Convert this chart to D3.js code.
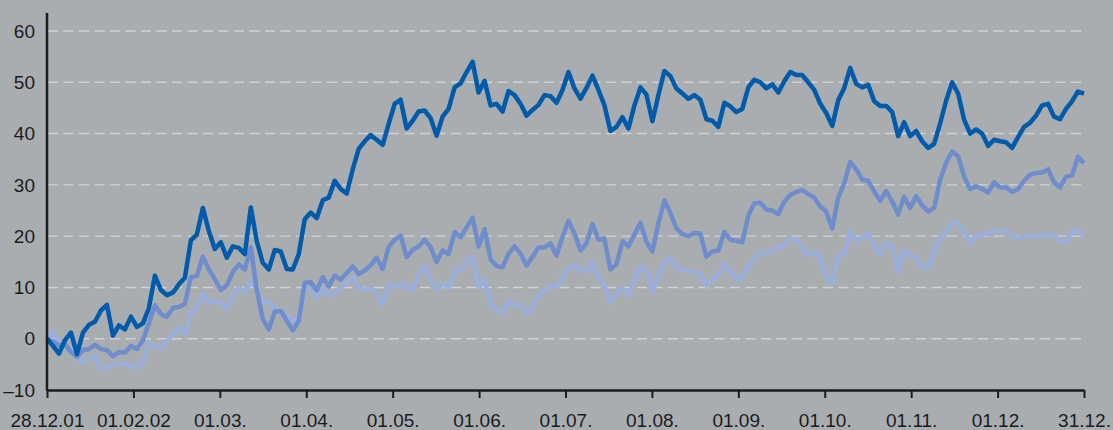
<!DOCTYPE html>
<html>
<head>
<meta charset="utf-8">
<script src="https://cdnjs.cloudflare.com/ajax/libs/d3/7.8.5/d3.min.js"></script>
<style>
  body { margin: 0; background: #a9adb0; }
  svg { display: block; }
  text { font-family: "Liberation Sans", Arial, sans-serif; font-size: 19px; fill: #1c1c1c; }
</style>
</head>
<body>
<div id="chart"></div>
<script>
// tick labels along the bottom (evenly spaced)
var categories = ['28.12.01', '01.02.02', '01.03.', '01.04.', '01.05.', '01.06.', '01.07.',
                  '01.08.', '01.09.', '01.10.', '01.11.', '01.12.', '31.12.'];
var yTicks = [-10, 0, 10, 20, 30, 40, 50, 60];

// performance in %, one value per step
var seriesDark = [0, -1.4, -2.9, -0.3, 1.2, -3.0, 1.2, 2.7, 3.3, 5.5,
  6.6, 0.6, 2.6, 1.8, 4.3, 2.3, 3.0, 6.0, 12.3, 9.5,
  8.5, 9.0, 10.6, 11.9, 19.2, 20.3, 25.5, 21.0, 17.5, 18.8,
  15.8, 18.0, 17.7, 16.5, 25.6, 19.0, 14.8, 13.5, 17.3, 17.0,
  13.6, 13.5, 16.5, 23.3, 24.6, 23.5, 27.0, 27.5, 30.8, 29.2,
  28.3, 33.0, 37.0, 38.5, 39.7, 38.8, 37.8, 41.9, 45.8, 46.6,
  41.0, 42.5, 44.3, 44.5, 43.0, 39.6, 43.3, 44.8, 49.0, 49.8,
  52.0, 54.0, 48.0, 50.3, 45.5, 45.8, 44.3, 48.3, 47.5, 45.8,
  43.5, 44.6, 45.6, 47.5, 47.3, 46.0, 48.5, 52.0, 48.8, 46.8,
  48.9, 51.3, 48.5, 45.5, 40.5, 41.3, 43.2, 41.0, 45.5, 49.0,
  47.6, 42.4, 47.5, 52.2, 51.2, 48.8, 47.8, 46.8, 47.5, 46.6,
  42.8, 42.5, 41.3, 46.0, 45.3, 44.2, 44.8, 49.0, 50.5, 50.0,
  48.8, 49.6, 48.0, 50.2, 52.0, 51.4, 51.4, 50.0, 48.5, 45.8,
  44.0, 41.5, 46.5, 48.9, 52.8, 49.7, 49.0, 49.5, 46.3, 45.4,
  45.4, 44.2, 39.5, 42.2, 39.5, 40.5, 38.5, 37.2, 38.0, 42.0,
  46.4, 50.0, 47.8, 42.7, 40.0, 40.8, 40.0, 37.6, 38.8, 38.5,
  38.3, 37.2, 39.3, 41.3, 42.1, 43.5, 45.5, 45.8, 43.3, 42.8,
  44.8, 46.3, 48.2, 47.8];

var seriesMid = [0, -0.6, -1.3, -1.1, -2.6, -3.5, -2.2, -2.0, -1.2, -2.0,
  -2.2, -3.4, -2.6, -2.7, -1.4, -2.0, -0.3, 3.0, 6.5, 4.8,
  4.3, 6.0, 6.2, 6.8, 12.0, 12.2, 16.0, 13.5, 11.6, 9.5,
  10.4, 13.0, 14.5, 13.5, 17.8, 9.5, 3.8, 1.8, 5.3, 5.4,
  3.5, 1.6, 3.5, 10.9, 11.0, 9.4, 12.0, 10.2, 12.3, 11.5,
  12.8, 14.1, 12.6, 13.3, 14.3, 15.8, 13.6, 17.9, 19.3, 20.1,
  15.9, 17.3, 18.0, 19.3, 17.8, 15.0, 17.2, 16.5, 20.8, 19.8,
  21.7, 23.6, 18.0, 21.4, 15.5, 14.2, 13.9, 16.6, 18.0, 16.6,
  14.3, 16.0, 17.8, 17.8, 18.6, 16.2, 19.9, 23.0, 20.5, 17.2,
  18.6, 22.4, 19.3, 19.5, 13.5, 14.5, 19.0, 18.0, 20.3, 22.6,
  18.9, 17.0, 22.5, 27.0, 24.5, 21.5, 20.4, 20.0, 20.6, 20.5,
  16.0, 17.0, 17.2, 20.8, 19.3, 19.1, 18.8, 24.0, 26.4, 26.5,
  25.2, 25.0, 24.3, 26.7, 28.0, 28.6, 29.0, 28.2, 27.5, 25.8,
  24.8, 21.5, 27.5, 30.3, 34.5, 33.0, 31.0, 30.8, 28.7, 26.9,
  28.8, 26.8, 24.2, 27.7, 25.5, 27.8, 26.0, 24.8, 25.5, 31.0,
  34.3, 36.5, 35.6, 31.6, 29.2, 29.7, 29.2, 28.5, 30.5, 29.5,
  29.5, 28.6, 29.2, 30.8, 32.0, 32.3, 32.4, 33.0, 30.5, 29.5,
  31.6, 31.8, 35.5, 34.2];

var seriesLight = [0.3, 1.4, -0.6, -1.9, -1.8, -4.0, -4.4, -4.1, -3.3, -5.7,
  -5.7, -5.1, -4.7, -5.0, -5.2, -5.7, -4.7, -0.8, -1.7, -1.7,
  -0.4, 0.8, 2.3, 0.8, 5.0, 6.3, 8.7, 7.2, 7.5, 7.0,
  5.8, 8.5, 10.0, 9.0, 11.5, 9.5, 7.0, 7.5, 5.5, 5.5,
  4.5, 3.5, 4.5, 9.5, 9.8, 8.0, 9.5, 8.5, 9.0, 9.8,
  11.0, 12.0, 10.0, 9.5, 9.8, 9.0, 6.6, 10.5, 9.9, 10.8,
  10.2, 9.5, 12.6, 14.2, 11.6, 9.5, 10.7, 9.8, 13.2, 13.4,
  15.2, 16.0, 10.0, 11.5, 6.5, 5.5, 5.0, 7.4, 6.4, 6.7,
  4.9, 6.3, 8.5, 9.5, 10.3, 10.1, 12.0, 13.7, 14.3, 13.6,
  13.1, 15.1, 12.0, 10.5, 7.0, 9.0, 9.8, 8.5, 11.5, 14.0,
  13.6, 9.2, 12.0, 15.0, 15.7, 13.8, 13.5, 13.2, 12.9, 12.8,
  10.3, 11.5, 12.6, 14.5, 13.2, 11.5, 11.8, 14.0, 15.6, 16.9,
  16.7, 17.2, 17.8, 18.3, 19.6, 19.3, 17.8, 16.3, 17.0, 15.7,
  12.2, 10.8, 16.0, 16.7, 21.0, 19.1, 19.8, 20.5, 18.0, 16.5,
  18.8, 18.0, 13.0, 17.3, 16.2, 15.9, 14.0, 13.8, 17.0, 20.0,
  20.7, 22.7, 22.6, 20.7, 18.8, 19.9, 20.3, 20.5, 21.0, 21.2,
  21.0, 20.0, 19.5, 19.9, 20.2, 19.9, 20.2, 20.4, 20.1, 19.0,
  18.8, 20.8, 21.0, 20.0];

var lineColors = ['#9aafdc', '#6f8dcc', '#005baa'];

var width = 1113, height = 430;

var svg = d3.select('#chart').append('svg')
  .attr('width', width)
  .attr('height', height);

svg.append('rect').attr('width', width).attr('height', height).attr('fill', '#a9adb0');

var x = d3.scaleLinear().domain([0, seriesDark.length - 1]).range([47, 1084]);
var xCat = d3.scalePoint().domain(categories).range([47, 1084]);
var y = d3.scaleLinear().domain([-10, 60]).range([390, 31]);

// dashed grid
svg.append('g')
  .selectAll('line')
  .data(yTicks.filter(function (d) { return d > -10; }))
  .enter().append('line')
  .attr('x1', 48).attr('x2', 1085)
  .attr('y1', function (d) { return y(d); })
  .attr('y2', function (d) { return y(d); })
  .attr('stroke', '#cfd2d4')
  .attr('stroke-width', 1.4)
  .attr('stroke-dasharray', '10,5.5');

// y labels
svg.append('g')
  .selectAll('text')
  .data(yTicks)
  .enter().append('text')
  .attr('x', 35)
  .attr('y', function (d) { return y(d); })
  .attr('dy', '0.35em')
  .attr('text-anchor', 'end')
  .text(function (d) { return d < 0 ? '\u2013' + Math.abs(d) : d; });

// lines
var line = d3.line()
  .x(function (d, i) { return x(i); })
  .y(function (d) { return y(d); });

[seriesLight, seriesMid, seriesDark].forEach(function (s, k) {
  svg.append('path')
    .datum(s)
    .attr('fill', 'none')
    .attr('stroke', lineColors[k])
    .attr('stroke-width', 4.5)
    .attr('stroke-linejoin', 'round')
    .attr('d', line);
});

// x axis
var xAxis = svg.append('g')
  .attr('transform', 'translate(0,390)')
  .call(d3.axisBottom(xCat).tickSize(8).tickSizeOuter(0).tickPadding(16));
xAxis.select('.domain').attr('stroke', '#1c1c1c').attr('stroke-width', 2.5);
xAxis.selectAll('.tick line').attr('stroke', '#1c1c1c').attr('stroke-width', 2);
xAxis.selectAll('text').style('font-size', '19px').style('font-family', '"Liberation Sans", Arial, sans-serif').attr('fill', '#1c1c1c');

// y axis line
svg.append('line')
  .attr('x1', x(0)).attr('x2', x(0))
  .attr('y1', 13).attr('y2', 391)
  .attr('stroke', '#1c1c1c')
  .attr('stroke-width', 2.5);
</script>
</body>
</html>
